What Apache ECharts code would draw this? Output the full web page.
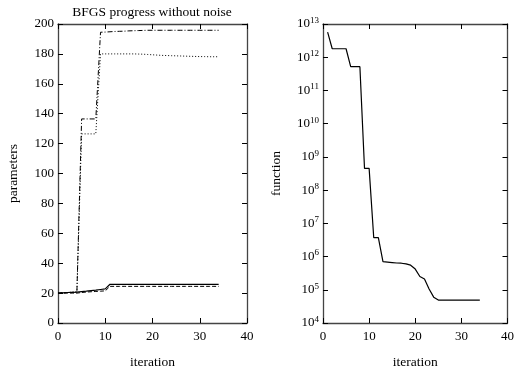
<!DOCTYPE html>
<html>
<head>
<meta charset="utf-8">
<script src="https://cdn.jsdelivr.net/npm/echarts@6/dist/echarts.min.js"></script>
<style>
html, body { margin: 0; padding: 0; background: #fff; }
#chart { width: 517px; height: 374px; }
</style>
</head>
<body>
<div id="chart"></div>
<script>
// iterations for left panel (0..34) and right panel (1..34)
const itersLeft = [0,1,2,3,4,5,6,7,8,9,10,11,12,13,14,15,16,17,18,19,20,21,22,23,24,25,26,27,28,29,30,31,32,33,34];
const itersRight = itersLeft.slice(1);

// parameter traces
const paramSolid = [20,20.2,20.4,20.5,20.7,21,21.3,21.7,22,22.4,22.8,25.9,25.9,25.9,25.9,25.9,25.9,25.9,25.9,25.9,25.9,25.9,25.9,25.9,25.9,25.9,25.9,25.9,25.9,25.9,25.9,25.9,25.9,25.9,25.9];
const paramDashed = [20,20,20,20,20,20.4,20.7,20.9,21.1,21.3,21.5,24.5,24.5,24.5,24.5,24.5,24.5,24.5,24.5,24.5,24.5,24.5,24.5,24.5,24.5,24.5,24.5,24.5,24.5,24.5,24.5,24.5,24.5,24.5,24.5];
const paramDashDot = [20,20.2,20.4,20.6,20.8,136.5,136.5,136.5,136.5,194.5,194.6,194.8,195,195.1,195.2,195.4,195.5,195.6,195.7,195.8,195.8,195.8,195.8,195.8,195.8,195.8,195.8,195.8,195.8,195.8,195.8,195.8,195.8,195.8,195.8];
const paramDotted = [20,20.2,20.4,20.6,20.8,126.5,126.5,126.5,126.5,180,180,180,180,180,180,180,180,179.9,179.8,179.6,179.4,179.2,179,178.9,178.8,178.7,178.6,178.5,178.4,178.3,178.2,178.2,178.1,178.1,178.1];

// objective function values (log scale)
const funcValues = [5.7e12,1.8e12,1.8e12,1.8e12,1.8e12,5.2e11,5.2e11,5.2e11,4.5e8,4.5e8,3.7e6,3.7e6,7.0e5,6.8e5,6.6e5,6.4e5,6.3e5,6.0e5,5.5e5,4.2e5,2.5e5,2.1e5,1.05e5,6.0e4,4.9e4,4.85e4,4.85e4,4.85e4,4.85e4,4.85e4,4.85e4,4.85e4,4.85e4,4.85e4];

const FONT = 'Liberation Serif';
const zip = (xs, ys) => xs.map((x, i) => [x, ys[i]]);

const chartDom = document.getElementById('chart');
const myChart = echarts.init(chartDom, null, { renderer: 'canvas' });

// 边框线: onZero 必须关掉, 否则右/上轴会贴到零点
const frameLine = { onZero: false, lineStyle: { color: '#444', width: 1.3 } };
const tickIn = { inside: true, length: 5, lineStyle: { color: '#000', width: 1 } };
const labelStyle = { color: '#000', fontFamily: FONT, fontSize: 13 };
const nameStyle = { color: '#000', fontFamily: FONT, fontSize: 13.5 };
const supRich = {
    b: { color: '#000', fontFamily: FONT, fontSize: 13 },
    s: { color: '#000', fontFamily: FONT, fontSize: 9, verticalAlign: 'top', padding: [0, 0, 7, 0] }
};

function xAxes(gridIndex) {
    return [{
        gridIndex, type: 'value', min: 0, max: 40, interval: 10, position: 'bottom',
        name: 'iteration', nameLocation: 'middle', nameGap: 32,
        nameTextStyle: nameStyle,
        axisLine: frameLine, axisTick: tickIn, splitLine: { show: false },
        axisLabel: Object.assign({ margin: 7 }, labelStyle)
    }, {
        gridIndex, type: 'value', min: 0, max: 40, interval: 10, position: 'top',
        axisLine: frameLine, axisTick: tickIn, splitLine: { show: false },
        axisLabel: { show: false }
    }];
}

myChart.setOption({
    animation: false,
    backgroundColor: '#fff',
    title: {
        text: 'BFGS progress without noise',
        left: 147, top: 0, textAlign: 'center',
        textStyle: { color: '#000', fontFamily: FONT, fontSize: 13.5, fontWeight: 'normal' }
    },
    grid: [
        { left: 58, top: 24, width: 189, height: 304 },
        { left: 323, top: 24, width: 189, height: 304 }
    ],
    xAxis: xAxes(0).concat(xAxes(1)),
    yAxis: [{
        gridIndex: 0, type: 'value', min: 0, max: 200, interval: 20, position: 'left',
        name: 'parameters', nameLocation: 'middle', nameGap: 38,
        nameTextStyle: nameStyle,
        axisLine: frameLine, axisTick: tickIn, splitLine: { show: false },
        axisLabel: Object.assign({ margin: 4 }, labelStyle)
    }, {
        gridIndex: 0, type: 'value', min: 0, max: 200, interval: 20, position: 'right',
        axisLine: frameLine, axisTick: tickIn, splitLine: { show: false },
        axisLabel: { show: false }
    }, {
        gridIndex: 1, type: 'log', logBase: 10, min: 1e4, max: 1e13, interval: 1, position: 'left',
        name: 'function', nameLocation: 'middle', nameGap: 40,
        nameTextStyle: nameStyle,
        axisLine: frameLine, axisTick: tickIn, splitLine: { show: false },
        minorTick: { show: false },
        axisLabel: {
            margin: 4,
            formatter: (v) => '{b|10}{s|' + Math.round(Math.log10(v)) + '}',
            rich: supRich
        }
    }, {
        gridIndex: 1, type: 'log', logBase: 10, min: 1e4, max: 1e13, interval: 1, position: 'right',
        axisLine: frameLine, axisTick: tickIn, splitLine: { show: false },
        axisLabel: { show: false }
    }],
    series: [{
        name: 'p1', type: 'line', xAxisIndex: 0, yAxisIndex: 0, symbol: 'none',
        lineStyle: { color: '#000', width: 1.2 }, data: zip(itersLeft, paramSolid)
    }, {
        name: 'p2', type: 'line', xAxisIndex: 0, yAxisIndex: 0, symbol: 'none',
        lineStyle: { color: '#000', width: 1, type: [4, 2] }, data: zip(itersLeft, paramDashed)
    }, {
        name: 'p3', type: 'line', xAxisIndex: 0, yAxisIndex: 0, symbol: 'none',
        lineStyle: { color: '#000', width: 1, type: [5, 2, 1, 2] }, data: zip(itersLeft, paramDashDot)
    }, {
        name: 'p4', type: 'line', xAxisIndex: 0, yAxisIndex: 0, symbol: 'none',
        lineStyle: { color: '#000', width: 1, type: [1, 2] }, data: zip(itersLeft, paramDotted)
    }, {
        name: 'f', type: 'line', xAxisIndex: 2, yAxisIndex: 2, symbol: 'none',
        lineStyle: { color: '#000', width: 1.2 }, data: zip(itersRight, funcValues)
    }]
});

window.onresize = function () {
    myChart.resize();
}
</script>
</body>
</html>
